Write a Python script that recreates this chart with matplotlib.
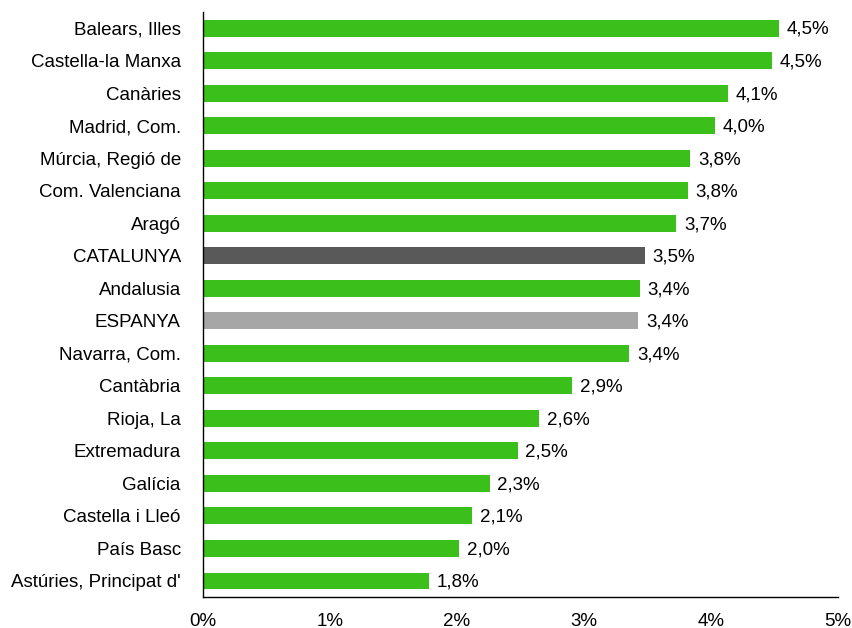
import matplotlib.pyplot as plt

regions = ["Balears, Illes", "Castella-la Manxa", "Canàries", "Madrid, Com.",
           "Múrcia, Regió de", "Com. Valenciana", "Aragó", "CATALUNYA",
           "Andalusia", "ESPANYA", "Navarra, Com.", "Cantàbria", "Rioja, La",
           "Extremadura", "Galícia", "Castella i Lleó", "País Basc",
           "Astúries, Principat d'"]
values = [4.54, 4.48, 4.14, 4.03, 3.84, 3.82, 3.73, 3.48, 3.44, 3.43, 3.36,
          2.91, 2.65, 2.48, 2.26, 2.12, 2.02, 1.78]
xticks = [0, 1, 2, 3, 4, 5]

green = "#3bbf1a"
colors = []
for r in regions:
    if r == "CATALUNYA":
        colors.append("#595959")
    elif r == "ESPANYA":
        colors.append("#a6a6a6")
    else:
        colors.append(green)

plt.rcParams['font.family'] = ['Liberation Sans', 'DejaVu Sans']

fig = plt.figure(figsize=(8.53, 6.28), dpi=100)
ax = fig.add_axes([0.238, 0.049, 0.744, 0.932])

y = list(range(len(regions)))
ax.barh(y, values, height=0.52, color=colors)

for yi, v in zip(y, values):
    ax.text(v + 0.06, yi + 0.04, f"{v:.1f}%".replace(".", ","), va="center",
            ha="left", fontsize=13.5, color="black")

ax.set_ylim(len(regions) - 0.5, -0.5)
ax.set_xlim(0, 5)
ax.set_yticks(y)
ax.set_yticklabels(regions, fontsize=13.5)
ax.set_xticks(xticks)
ax.set_xticklabels([f"{t}%" for t in xticks], fontsize=13.5)
ax.tick_params(axis="both", length=0)
ax.tick_params(axis="y", pad=16)
ax.tick_params(axis="x", pad=11)

for s in ["top", "right"]:
    ax.spines[s].set_visible(False)
ax.spines["left"].set_linewidth(1)
ax.spines["bottom"].set_linewidth(1)

fig.savefig("out.png")
